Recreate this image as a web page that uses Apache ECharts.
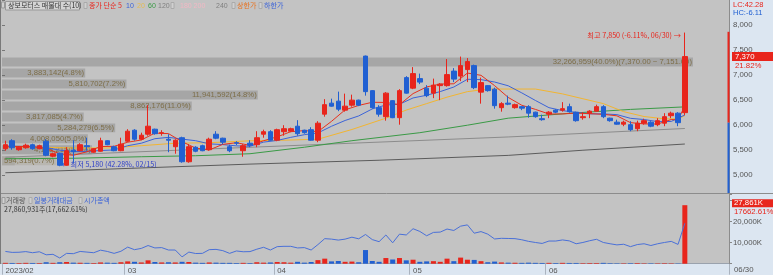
<!DOCTYPE html>
<html>
<head>
<meta charset="utf-8">
<script src="https://cdn.jsdelivr.net/npm/echarts@6.0.0/dist/echarts.min.js"></script>
<style>
html,body{margin:0;padding:0;background:#c3c3c3;}
#chart{width:773px;height:275px;}
</style>
</head>
<body>
<div id="chart"></div>
<script>
// ---------------- data ----------------
const dates = ['02/03','02/06','02/07','02/08','02/09','02/10','02/13','02/14','02/15','02/16','02/17','02/20','02/21','02/22','02/23','02/24','02/27','02/28',
'03/02','03/03','03/06','03/07','03/08','03/09','03/10','03/13','03/14','03/15','03/16','03/17','03/20','03/21','03/22','03/23','03/24','03/27','03/28','03/29','03/30','03/31',
'04/03','04/04','04/05','04/06','04/07','04/10','04/11','04/12','04/13','04/14','04/17','04/18','04/19','04/20','04/21','04/24','04/25','04/26','04/27','04/28',
'05/02','05/03','05/04','05/08','05/09','05/10','05/11','05/12','05/15','05/16','05/17','05/18','05/19','05/22','05/23','05/24','05/25','05/26','05/30','05/31',
'06/01','06/02','06/05','06/07','06/08','06/09','06/12','06/13','06/14','06/15','06/16','06/19','06/20','06/21','06/22','06/23','06/26','06/27','06/28','06/29','06/30'];
const padSlots = ['p1','p2','p3','p4','p5','p6'];

const opens = [5530,5690,5510,5550,5610,5530,5680,5380,5440,5200,5500,5490,5590,5460,5480,5690,5570,5490,
5680,5900,5720,5820,5920,5840,5720,5570,5750,5270,5560,5590,5510,5820,5740,5570,5650,5490,5640,5610,5820,5870,
5700,5870,5880,5980,5900,5910,5700,6220,6440,6480,6300,6400,6500,7380,6690,6350,6170,6490,6150,6950,
6740,6930,6740,6640,6790,6790,7080,6980,7110,7190,6660,6790,6720,6350,6440,6350,6370,6370,6260,6130,
6220,6300,6300,6370,6260,6150,6240,6280,6370,6140,6060,6020,6010,5930,6040,6060,6010,6040,6190,6240,6250];
const closes = [5610,5550,5560,5600,5530,5590,5400,5430,5200,5490,5470,5610,5570,5530,5690,5610,5490,5620,
5880,5720,5800,5980,5830,5850,5700,5700,5270,5570,5480,5490,5720,5740,5660,5490,5640,5590,5600,5750,5870,5700,
5910,5930,5930,5830,5850,5700,6040,6410,6380,6320,6380,6500,6400,6670,6350,6220,6640,6150,6690,6640,
7030,6860,6590,6800,6820,7010,6920,7190,7270,6750,6850,6690,6390,6430,6420,6410,6340,6240,6170,6110,
6260,6260,6330,6270,6090,6170,6280,6370,6170,6090,6020,6060,5910,6040,6090,5980,6090,6170,6240,6050,7370];
const lows = [5490,5510,5490,5530,5510,5520,5380,5360,5180,5190,5250,5480,5490,5450,5470,5600,5480,5480,
5660,5690,5700,5790,5810,5790,5460,5430,5250,5250,5460,5480,5490,5720,5620,5460,5600,5370,5560,5560,5750,5690,
5680,5790,5860,5790,5830,5690,5660,6170,6370,6280,6270,6370,6380,6590,6330,6170,6090,6140,6010,6630,
6720,6820,6560,6540,6500,6770,6860,6880,6860,6720,6430,6670,6330,6270,6400,6330,6300,6150,6150,6090,
6140,6240,6270,6250,6070,6110,6140,6270,6140,6070,6010,5980,5880,5880,6010,5960,5980,5980,6140,5980,6200];
const highs = [5690,5720,5580,5630,5630,5610,5720,5450,5450,5560,5700,5640,5750,5540,5750,5700,5590,5750,
5920,5920,5850,6400,5930,5900,5820,5720,5770,5620,5580,5610,5750,5880,5750,5610,5680,5620,5700,5880,5910,5900,
5930,6000,5950,6100,5910,5960,6080,6520,6530,6670,6630,6610,6510,7390,6700,6400,6660,6500,6720,6980,
7160,7030,6800,6930,6840,7320,7140,7370,7340,7210,6950,6800,6750,6460,6590,6430,6380,6400,6270,6210,
6280,6320,6460,6430,6270,6260,6300,6410,6400,6150,6110,6090,6080,6090,6130,6080,6140,6240,6270,6260,7850];
const volumes = [400000,350000,300000,400000,350000,300000,700000,400000,700000,800000,500000,450000,400000,300000,600000,500000,400000,700000,
1100000,900000,600000,1600000,800000,600000,700000,600000,900000,800000,500000,400000,600000,500000,400000,400000,300000,400000,300000,700000,500000,600000,
800000,700000,500000,900000,500000,800000,1700000,2400000,1100000,1300000,900000,1000000,700000,6500000,1300000,900000,2700000,2000000,2700000,1600000,
1900000,900000,1100000,1200000,900000,2400000,1200000,2900000,1900000,1800000,1200000,700000,1000000,600000,500000,450000,400000,500000,400000,350000,
400000,300000,400000,350000,350000,250000,300000,300000,400000,250000,200000,200000,250000,300000,200000,200000,200000,250000,200000,156850,27860931];

// moving averages read at points along each line: [dayIndex, price]
const ma5 = [[0,5565],[2,5575],[4,5569],[6,5536],[8,5429],[10,5399],[12,5469],[14,5573],[16,5578],[18,5660],[20,5704],[22,5842],[24,5832],[26,5670],[28,5543],[30,5506],[32,5617],[34,5650],[36,5596],[38,5690],[40,5767],[42,5870],[44,5892],[46,5871],[48,6077],[50,6307],[52,6395],[54,6458],[56,6454],[58,6409],[60,6631],[62,6764],[64,6821],[66,6827],[68,7041],[70,6996],[72,6790],[74,6555],[76,6398],[78,6316],[80,6223],[82,6225],[84,6241],[86,6230],[88,6217],[90,6187],[92,6051],[94,6025],[96,6023],[98,6113],[99,6106],[100,6384]];
const ma10 = [[0,5580],[2,5575],[4,5570],[6,5553],[8,5500],[10,5475],[12,5476],[14,5494],[16,5506],[18,5590],[20,5640],[22,5730],[24,5757],[26,5722],[28,5690],[30,5628],[32,5612],[34,5587],[36,5579],[38,5662],[40,5695],[42,5757],[44,5810],[46,5845],[48,5979],[50,6094],[52,6185],[54,6325],[56,6403],[58,6418],[60,6544],[62,6598],[64,6671],[66,6762],[68,6917],[70,6910],[72,6862],[74,6787],[76,6645],[78,6494],[80,6350],[82,6291],[84,6255],[86,6227],[88,6225],[90,6211],[92,6137],[94,6113],[96,6071],[98,6075],[100,6204]];
const ma20 = [[0,5560],[5,5560],[10,5545],[15,5545],[20,5590],[25,5640],[30,5650],[36,5688],[41,5700],[46,5720],[51,5914],[56,6140],[59,6302],[62,6431],[65,6560],[68,6670],[71,6722],[74,6722],[78,6722],[82,6625],[85,6528],[88,6431],[91,6270],[94,6173],[97,6127],[99,6127],[100,6190]];
const ma60 = [[0,5330],[10,5340],[20,5370],[28,5390],[36,5430],[44,5560],[51,5690],[61,5850],[68,6000],[74,6140],[83,6237],[92,6315],[100,6366]];
const ma120 = [[0,5360],[36,5559],[74,5765],[100,5934]];
const ma240 = [[0,5050],[36,5223],[55,5300],[74,5397],[85,5500],[100,5624]];

// price-by-volume profile (10 bands)
const profileEdges = [7370,7151,6932,6713,6494,6275,6056,5837,5618,5399,5180];
const profileVolumes = [32266959,3883142,5810702,11941592,8862176,3817085,5284279,4008050,4198215,594319];
const profilePercents = ['40.0','4.8','7.2','14.8','11.0','4.7','6.5','5.0','5.2','0.7'];

const priceTicks = [5000,5500,6000,6500,7000,7500,8000];
const volumeTicks = [10000000,20000000];
const monthTickDates = ['02/03','03/02','04/03','05/02','06/01'];
const monthTickLabels = ['2023/02','03','04','05','06'];

const prevClose = 6050, upperLimit = 7865, lowerLimit = 4235;
const lastPriceText = '7,370', lastChangeText = '21.82%';
const lastVolText = '27,861K', lastVolChangeText = '17662.61%';
const highMark = {date:'06/30', price:7850, text:'최고 7,850 (-6.11%, 06/30) →'};
const lowMark = {date:'02/15', price:5180, text:'← 최저 5,180 (42.28%, 02/15)'};

// ---------------- chart ----------------
const RED = '#e8251c', BLUE = '#2160d2';
const FONT = "'Liberation Sans','Noto Sans CJK KR',sans-serif";
const KFONT = "'Noto Sans CJK KR','Liberation Sans',sans-serif";
const cats = dates.concat(padSlots);
const candleData = dates.map((d,i)=>[opens[i],closes[i],lows[i],highs[i]]);
const volData = volumes.map((v,i)=>({value:v,itemStyle:{color: closes[i]>=opens[i]?RED:BLUE}}));
const profileData = profileVolumes.map((v,i)=>[v, profileEdges[i+1], profileEdges[i], i]);

const mctx = document.createElement('canvas').getContext('2d');
function textW(t,size){ mctx.font = size+'px '+FONT; return mctx.measureText(t).width; }
function fmt(n){ return n.toLocaleString('en-US'); }
function profileLabel(k){
  let s = fmt(profileVolumes[k])+'('+profilePercents[k]+'%)';
  if(k===0) s += '('+fmt(profileEdges[0])+'.00 ~ '+fmt(profileEdges[1])+'.00)';
  return s;
}
function renderProfile(params, api){
  const vol = api.value(0), lo = api.value(1), hi = api.value(2), k = api.value(3);
  const a = api.coord([0, hi]), b = api.coord([vol, lo]);
  const x0 = a[0], x1 = b[0], y0 = a[1]+1, y1 = b[1]-1;
  const label = profileLabel(k);
  const w = textW(label, 7.7);
  const fits = (x1-x0) >= w+3;
  const children = [{type:'rect', shape:{x:x0,y:y0,width:x1-x0,height:y1-y0}, style:{fill:'rgba(100,100,100,0.30)'}}];
  if(!fits) children.push({type:'rect', shape:{x:x0,y:y0,width:w+4,height:y1-y0}, style:{fill:'rgba(175,172,160,0.55)'}});
  children.push({type:'text', x: fits ? x1-1 : x0+2, y:(y0+y1)/2,
    style:{text:label, fill:'#7d6e48', font:'7.7px '+FONT, align: fits?'right':'left', verticalAlign:'middle'}});
  return {type:'group', children};
}
function maSeries(name, data, color){
  return {name, type:'line', xAxisIndex:0, yAxisIndex:0, data, symbol:'none', showSymbol:false,
    lineStyle:{width:1,color}, z:3, silent:true, animation:false};
}

const chart = echarts.init(document.getElementById('chart'), null, {renderer:'canvas', width:773, height:275});
const option = {
  animation:false,
  backgroundColor:'#c3c3c3',
  textStyle:{fontFamily:FONT},
  grid:[
    {left:2, top:-4.5, width:727, height:204.8},
    {left:2, top:194, width:727, height:69.7}
  ],
  xAxis:[
    {gridIndex:0, type:'category', data:cats, boundaryGap:true, show:false},
    {gridIndex:0, type:'value', min:0, max:33950000, show:false},
    {gridIndex:1, type:'category', data:cats, boundaryGap:true, position:'bottom',
      axisLine:{show:true, lineStyle:{color:'#9aa2ad', width:1}},
      axisTick:{show:true, length:11, interval:(i,v)=>monthTickDates.includes(v), lineStyle:{color:'#aab3bf'}},
      axisLabel:{show:true, interval:(i,v)=>monthTickDates.includes(v), align:'left', margin:3,
        formatter:v=>{const k=monthTickDates.indexOf(v); return k>=0?monthTickLabels[k]:'';},
        color:'#555', fontSize:7.8, fontFamily:FONT},
      splitLine:{show:false}}
  ],
  yAxis:[
    {gridIndex:0, type:'value', position:'right', min:4500, max:8500, interval:500,
      axisLine:{show:false}, axisTick:{show:true, length:3, lineStyle:{color:'#777'}},
      axisLabel:{formatter:v=>priceTicks.includes(v)?fmt(v):'', color:'#555', fontSize:7.8, fontFamily:FONT, margin:4},
      splitLine:{show:false}},
    {gridIndex:1, type:'value', position:'right', min:0, max:33190000, interval:10000000,
      axisLine:{show:false}, axisTick:{show:true, length:3, lineStyle:{color:'#888'}},
      axisLabel:{formatter:v=>volumeTicks.includes(v)?fmt(v/1000)+'K':'', color:'#555', fontSize:7.8, fontFamily:FONT, margin:4},
      splitLine:{show:false}},
    {gridIndex:1, type:'value', min:4844, max:9200, show:false}
  ],
  series:[
    {type:'custom', name:'profile', xAxisIndex:1, yAxisIndex:0, data:profileData, renderItem:renderProfile, z:1, silent:true},
    maSeries('MA240', ma240, '#5c5c5c'),
    maSeries('MA120', ma120, '#8c8c8c'),
    maSeries('MA60', ma60, '#3a9a46'),
    maSeries('MA20', ma20, '#f2b531'),
    maSeries('MA10', ma10, '#3b63d8'),
    maSeries('MA5', ma5, '#e8301c'),
    {type:'candlestick', name:'price', xAxisIndex:0, yAxisIndex:0, data:candleData, barWidth:5, z:5,
      itemStyle:{color:RED, color0:BLUE, borderColor:RED, borderColor0:BLUE, borderWidth:1},
      markPoint:{symbol:'circle', symbolSize:0, silent:true, animation:false,
        data:[
          {coord:[highMark.date, highMark.price], label:{show:true, position:'left', distance:4, offset:[0,2.5], formatter:highMark.text, color:RED, fontSize:7.2, fontFamily:KFONT}},
          {coord:[lowMark.date, lowMark.price], label:{show:true, position:'right', distance:2, offset:[0,-2], formatter:lowMark.text, color:'#3040c8', fontSize:7.2, fontFamily:KFONT}}
        ]}},
    {type:'bar', name:'volume', xAxisIndex:2, yAxisIndex:1, data:volData, barWidth:5, z:3},
    {type:'line', name:'mcap', xAxisIndex:2, yAxisIndex:2, data:closes, symbol:'none', lineStyle:{width:1,color:'#4a70d8'}, z:4}
  ]
};
chart.setOption(option);

// decorations placed with the library's own scales
const yP = v => chart.convertToPixel({yAxisIndex:0}, v);
const yV = v => chart.convertToPixel({yAxisIndex:1}, v);
const yUp = yP(upperLimit), yPrev = yP(prevClose), yLow = Math.min(yP(lowerLimit), 193);
const yLast = yP(closes[closes.length-1]);
const yVol = yV(volumes[volumes.length-1]) - 2.5;

function txt(x,y,text,fill,size,family,extra){
  return Object.assign({type:'text', x, y, silent:true, z:20, style:{text, fill, font:size+'px '+(family||FONT), verticalAlign:'middle'}}, extra||{});
}
function box(x,y,w,h,fill,stroke){ return {type:'rect', silent:true, z:19, shape:{x,y,width:w,height:h}, style:{fill, stroke:stroke||null, lineWidth:1}}; }

const graphics = [
  {type:'rect', silent:true, z:-10, shape:{x:729,y:0,width:44,height:275}, style:{fill:'#dce6f1'}},
  {type:'rect', silent:true, z:-10, shape:{x:0,y:264,width:773,height:11}, style:{fill:'#dce6f1'}},
  {type:'line', silent:true, z:10, shape:{x1:0,y1:193.5,x2:773,y2:193.5}, style:{stroke:'#8c8c8c',lineWidth:1}},
  {type:'line', silent:true, z:10, shape:{x1:729.5,y1:0,x2:729.5,y2:264}, style:{stroke:'#8c8c8c',lineWidth:1}},
  {type:'line', silent:true, z:10, shape:{x1:0.5,y1:0,x2:0.5,y2:264}, style:{stroke:'#7a7a7a',lineWidth:1}},
  {type:'line', silent:true, z:11, shape:{x1:728.5,y1:yUp,x2:728.5,y2:yPrev}, style:{stroke:RED,lineWidth:2}},
  {type:'line', silent:true, z:11, shape:{x1:728.5,y1:yPrev,x2:728.5,y2:yLow}, style:{stroke:BLUE,lineWidth:2}},
  box(732, yLast-4.5, 41, 9, RED),
  txt(735, yLast, lastPriceText, '#fff', 7.8),
  txt(735, yLast+9, lastChangeText, RED, 7.8),
  box(732, yVol-3.5, 41, 8, RED),
  txt(734, yVol+0.5, lastVolText, '#fff', 7.8),
  txt(734, yVol+9, lastVolChangeText, RED, 7.8),
  txt(733, 4.5, 'LC:42.28', RED, 7.5),
  txt(733, 12.5, 'HC:-6.11', BLUE, 7.5),
  txt(734, 269.5, '06/30', '#555', 7.8),
  box(1.5, 2, 3, 6, '#d0d0d0', '#999'),
  box(5.5, 1.5, 74, 8.5, '#d4d4d4', '#9a9a9a'),
  txt(8, 5.8, '상보모터스 매물대 수(10)', '#333', 7, KFONT),
  box(84, 2.5, 3, 6, '#d0d0d0', '#aaa'),
  txt(89, 5.8, '종가 단순 5', RED, 7, KFONT),
  txt(126, 5.8, '10', '#3b63d8', 7),
  txt(137, 5.8, '20', '#e6bc50', 7),
  txt(148, 5.8, '60', '#3a9a46', 7),
  txt(158, 5.8, '120', '#808080', 7),
  box(171, 2.5, 3, 6, '#d0d0d0', '#aaa'),
  txt(180, 5.8, '180 200', '#f2b8c4', 7),
  txt(216, 5.8, '240', '#808080', 7),
  box(232, 2.5, 3, 6, '#d0d0d0', '#aaa'),
  txt(237, 5.8, '상한가', '#e8701c', 7, KFONT),
  box(259, 2.5, 3, 6, '#d0d0d0', '#aaa'),
  txt(264, 5.8, '하한가', '#3b63d8', 7, KFONT),
  box(2, 197.5, 3, 6, '#d0d0d0', '#999'),
  txt(6, 200.5, '거래량', '#555', 7, KFONT),
  box(29, 197.5, 3, 6, '#d0d0d0', '#aaa'),
  txt(34, 200.5, '일봉거래대금', '#3b63d8', 7, KFONT),
  box(79, 197.5, 3, 6, '#d0d0d0', '#aaa'),
  txt(84, 200.5, '시가총액', '#3b63d8', 7, KFONT),
  txt(4, 209.5, '27,860,931주(17,662.61%)', '#333', 7, KFONT)
];
chart.setOption({graphic:graphics});
</script>
</body>
</html>
